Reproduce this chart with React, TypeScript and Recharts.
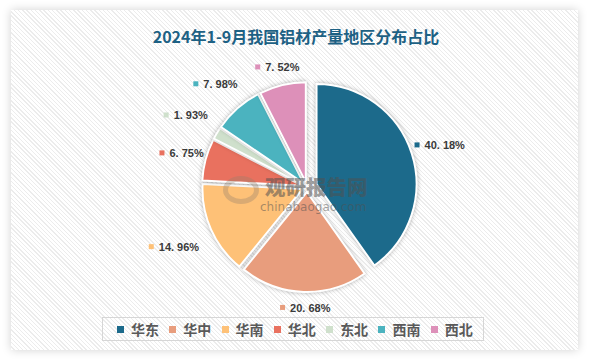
import { PieChart, Pie, Cell } from "recharts";

const regions = ["华东", "华中", "华南", "华北", "东北", "西南", "西北"];
const shares = [40.18, 20.68, 14.96, 6.75, 1.93, 7.98, 7.52];
const colors = ["#1c6a8b", "#e89d7d", "#fec177", "#e9715f", "#cfe0cc", "#4bb3bf", "#dd90b9"];

// how far each slice is pulled out, and where its label sits beyond the rim
const explode = [10, 5, 5, 5, 5, 5, 5];
const labelGap = [27, 16, 43, 24, 35, 32, 18];

const CX = 302;
const CY = 182;
const R = 100;
const RADIAN = Math.PI / 180;

const data = regions.map((name, i) => ({ name, value: shares[i] }));
const total = shares.reduce((a, b) => a + b, 0);

function offsetFor(i: number) {
  const before = shares.slice(0, i).reduce((a, b) => a + b, 0);
  const mid = ((before + shares[i] / 2) / total) * 360;
  return {
    dx: explode[i] * Math.sin(mid * RADIAN),
    dy: -explode[i] * Math.cos(mid * RADIAN),
  };
}

const fmt = (v: number) => `${v.toFixed(2).replace(".", ". ")}%`;

function makeLabel(own: number) {
  return (props: any) => {
    const { cx, cy, midAngle, outerRadius, index } = props;
    if (index !== own) return null;
    const d = outerRadius + labelGap[own];
    const x = cx + d * Math.cos(-midAngle * RADIAN);
    const y = cy + d * Math.sin(-midAngle * RADIAN);
    return (
      <g>
        <rect x={x - 23} y={y - 3} width={5} height={5} fill={colors[own]} />
        <text
          x={x - 13}
          y={y}
          dy={4}
          textAnchor="start"
          fontSize={11}
          fontWeight="bold"
          fontFamily="'Liberation Sans', Arial, sans-serif"
          fill="#3a3a3a"
        >
          {fmt(shares[own])}
        </text>
      </g>
    );
  };
}

export default function App() {
  return (
    <div style={{ position: "absolute", left: 0, top: 0, width: 592, height: 362, background: "#fff" }}>
      <div
        style={{
          position: "absolute",
          left: 11,
          top: 10,
          width: 567,
          height: 340,
          boxShadow: "0 0 9px rgba(0,0,0,0.18)",
          background:
            "repeating-linear-gradient(45deg, #ffffff 0px, #ffffff 2px, #ececec 2px, #ececec 3px)",
        }}
      />
      <div
        style={{
          position: "absolute",
          left: 0,
          top: 24,
          width: 592,
          textAlign: "center",
          fontFamily: "'Noto Sans CJK SC', sans-serif",
          fontWeight: "bold",
          fontSize: 16,
          color: "#1d6184",
        }}
      >
        2024年1-9月我国铝材产量地区分布占比
      </div>
      <div style={{ position: "absolute", left: 0, top: 0 }}>
        <PieChart width={592} height={362}>
          {regions.map((_, own) => {
            const { dx, dy } = offsetFor(own);
            return (
              <Pie
                key={own}
                data={data}
                dataKey="value"
                nameKey="name"
                cx={CX + dx}
                cy={CY + dy}
                outerRadius={R}
                startAngle={90}
                endAngle={-270}
                isAnimationActive={false}
                labelLine={false}
                label={makeLabel(own)}
              >
                {data.map((_, i) =>
                  i === own ? (
                    <Cell
                      key={i}
                      fill={colors[i]}
                      stroke="#ffffff"
                      strokeWidth={2}
                      style={{ filter: "drop-shadow(0px 0px 2px rgba(0,0,0,0.3))" }}
                    />
                  ) : (
                    <Cell key={i} fill="none" stroke="none" />
                  )
                )}
              </Pie>
            );
          })}
        </PieChart>
      </div>
      {/* watermark */}
      <div
        style={{
          position: "absolute",
          left: 265,
          top: 175,
          fontFamily: "'Noto Sans CJK SC', sans-serif",
          fontWeight: 900,
          fontSize: 20.5,
          color: "rgba(80,80,80,0.55)",
          lineHeight: "22px",
          whiteSpace: "nowrap",
        }}
      >
        观研报告网
      </div>
      <div
        style={{
          position: "absolute",
          left: 260,
          top: 201,
          fontFamily: "'DejaVu Sans', sans-serif",
          fontSize: 12,
          lineHeight: "13px",
          color: "rgba(80,80,80,0.5)",
          whiteSpace: "nowrap",
        }}
      >
        chinabaogao.com
      </div>
      <div
        style={{
          position: "absolute",
          left: 223,
          top: 176,
          width: 36,
          height: 28,
          borderRadius: "50%",
          border: "5px solid rgba(150,130,110,0.35)",
          boxSizing: "border-box",
        }}
      />
      <div
        style={{
          position: "absolute",
          left: 102,
          top: 317,
          width: 382,
          height: 24,
          border: "1px solid #d6d6d6",
          boxSizing: "border-box",
          display: "flex",
          alignItems: "center",
          paddingLeft: 14,
          fontFamily: "'Noto Sans CJK SC', sans-serif",
          fontWeight: "bold",
          fontSize: 14,
          color: "#595959",
        }}
      >
        {regions.map((r, i) => (
          <div key={r} style={{ display: "flex", alignItems: "center", width: 53 }}>
            <span
              style={{ display: "inline-block", width: 7, height: 7, background: colors[i], marginRight: 7 }}
            />
            <span style={{ lineHeight: "20px" }}>{r}</span>
          </div>
        ))}
      </div>
    </div>
  );
}
